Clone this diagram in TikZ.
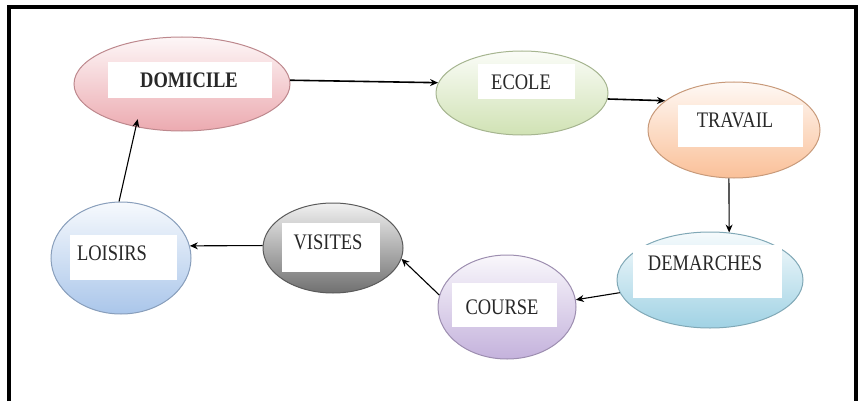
\documentclass[tikz,border=0pt]{standalone}
\usepackage{fontspec}
\usepackage{graphicx}
\setmainfont{Liberation Serif}
\usetikzlibrary{shapes.geometric,arrows.meta}

% bubble colours
\definecolor{cDom}{RGB}{236,170,176}
\definecolor{cEco}{RGB}{208,226,180}
\definecolor{cTra}{RGB}{250,192,152}
\definecolor{cDem}{RGB}{160,210,228}
\definecolor{cCou}{RGB}{196,178,220}
\definecolor{cVis}{RGB}{112,112,112}
\definecolor{cLoi}{RGB}{170,198,234}
\definecolor{ink}{RGB}{40,40,40}

\newcommand\stretchedword[1]{\scalebox{1}[1.2]{#1}}

\tikzset{
  bubble/.style={ellipse, inner sep=0pt, line width=1pt,
    draw=#1!80!black, top color=#1!10, middle color=#1!35, bottom color=#1},
  labelbox/.style={rectangle, fill=white, draw=none, inner sep=0pt},
  word/.style={inner sep=0pt, text=ink, font=\fontsize{18.5}{20}\selectfont},
  link/.style={draw=black, line width=1.1pt, -{Stealth[length=8pt,width=7pt]}},
  boldlink/.style={link, line width=1.6pt},
}

\begin{document}
\begin{tikzpicture}[x=1pt, y=-1pt]
  \useasboundingbox (0,0) rectangle (866,401);

  % page frame, open at the bottom
  \draw[line width=4pt] (9,401) -- (9,7) -- (856,7) -- (856,401);

  % bubbles
  \node[bubble=cDom, minimum width=216pt, minimum height=94pt] (dom) at (182,84) {};
  \node[bubble=cEco, minimum width=172pt, minimum height=84pt] (eco) at (522,93) {};
  \node[bubble=cTra, minimum width=172pt, minimum height=96pt] (tra) at (734,130) {};
  \node[bubble=cDem, minimum width=186pt, minimum height=96pt] (dem) at (710,280) {};
  \node[bubble=cCou, minimum width=138pt, minimum height=104pt] (cou) at (507,307) {};
  \node[bubble=cVis, minimum width=140pt, minimum height=90pt] (vis) at (333,248) {};
  \node[bubble=cLoi, minimum width=140pt, minimum height=112pt] (loi) at (121,258) {};

  % white label panels
  \node[labelbox, minimum width=164pt, minimum height=36pt] (domb) at (190,80) {};
  \node[labelbox, minimum width=97pt,  minimum height=35pt] (ecob) at (526,82) {};
  \node[labelbox, minimum width=125pt, minimum height=42pt] (trab) at (740,126) {};
  \node[labelbox, minimum width=149pt, minimum height=53pt] (demb) at (707,271) {};
  \node[labelbox, minimum width=105pt, minimum height=44pt] (coub) at (504,305) {};
  \node[labelbox, minimum width=98pt,  minimum height=49pt] (visb) at (331,247) {};
  \node[labelbox, minimum width=107pt, minimum height=45pt] (loib) at (123,257) {};

  % labels
  \node[word] (domt) at (189,80) {\stretchedword{\bfseries DOMICILE}};
  \node[word] (ecot) at (521,82) {\stretchedword{ECOLE}};
  \node[word] (trat) at (735,120) {\stretchedword{TRAVAIL}};
  \node[word] (demt) at (705,263) {\stretchedword{DEMARCHES}};
  \node[word] (cout) at (502,307) {\stretchedword{COURSE}};
  \node[word] (vist) at (328,242) {\stretchedword{VISITES}};
  \node[word] (loit) at (112,253) {\stretchedword{LOISIRS}};

  % the daily round
  \draw[boldlink] (dom.2) -- (eco.173);
  \draw[boldlink] (eco.-4) -- (tra.157);
  \draw[link] (tra.-96) -- (dem.68);
  \draw[link] (dem.188) -- (cou.6);
  \draw[link] (cou.170) -- (vis.-9);
  \draw[link] (vis.178) -- (loi.10);
  \draw[link, shorten >=-8pt] (loi.92) -- (dom.-137);
\end{tikzpicture}
\end{document}
